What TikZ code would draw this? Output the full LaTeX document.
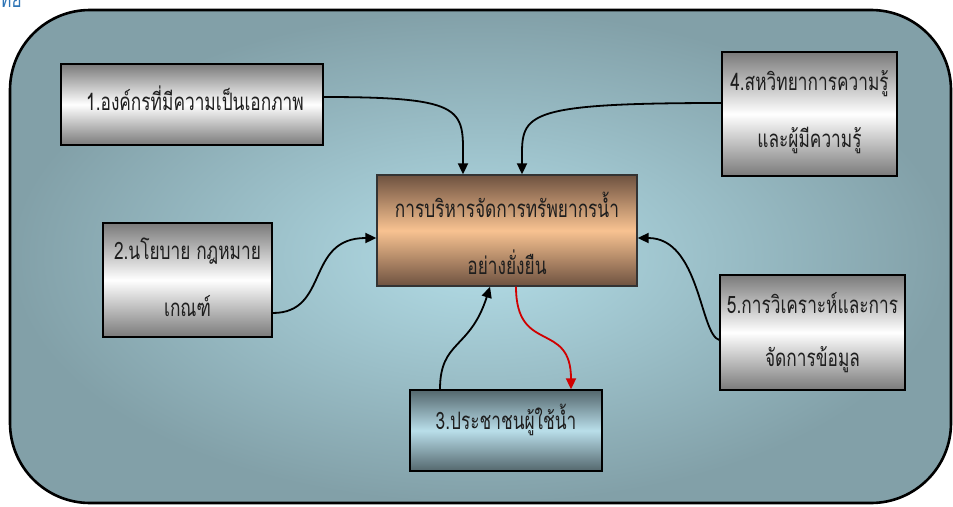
\documentclass[tikz,border=0pt]{standalone}
\usepackage{fontspec}
\usetikzlibrary{arrows.meta}
\newfontfamily\thaifont[Script=Thai,FakeStretch=0.72]{Loma}
\definecolor{bgin}{HTML}{B3DDE7}
\definecolor{bgout}{HTML}{82A0A8}
\definecolor{boxgray}{HTML}{7A7A7A}
\definecolor{brdark}{HTML}{6E5240}
\definecolor{brmid}{HTML}{F8C291}
\definecolor{bldark}{HTML}{54676D}
\definecolor{blmid}{HTML}{B9DEEA}
\definecolor{txt}{HTML}{1E1E1E}
\definecolor{fragblue}{HTML}{2E74B5}
\definecolor{redarr}{HTML}{D00000}
\tikzset{
  graybox/.style={draw=black, line width=1.3pt, top color=boxgray, bottom color=boxgray, middle color=white},
  brownbox/.style={draw=black!80, line width=1.3pt, top color=brdark, bottom color=brdark, middle color=brmid},
  bluebox/.style={draw=black, line width=1.3pt, top color=bldark, bottom color=bldark, middle color=blmid},
  lbl/.style={font=\thaifont\fontsize{24}{28}\selectfont, text=txt, inner sep=0pt},
  conn/.style={line width=1.8pt, -{Triangle[length=11pt,width=10pt]}},
}
\begin{document}
\begin{tikzpicture}[x=1pt,y=-1pt]
\useasboundingbox (0,0) rectangle (953,506);
% outer panel
\draw[line width=2.6pt, inner color=bgin, outer color=bgout, rounded corners=80pt]
  (10,10) rectangle (951,503);
% fragment of text above
\node[anchor=base west, inner sep=0pt, text=fragblue, font=\thaifont\fontsize{24}{28}\selectfont] (frag) at (0,7) {ทย};
% boxes
\node[graybox, minimum width=262pt, minimum height=81pt, inner sep=0pt] (b1) at (192,104.5) {};
\node[lbl] (t1) at (195,98) {1.องค์กรที่มีความเป็นเอกภาพ};
\node[graybox, minimum width=175pt, minimum height=124pt, inner sep=0pt] (b4) at (809.5,114) {};
\node[lbl] (t4a) at (809.5,84) {4.สหวิทยาการความรู้};
\node[lbl] (t4b) at (809.5,140) {และผู้มีความรู้};
\node[brownbox, minimum width=260pt, minimum height=111pt, inner sep=0pt] (c) at (507,230.5) {};
\node[lbl] (tca) at (507,205) {การบริหารจัดการทรัพยากรน้ำ};
\node[lbl] (tcb) at (507,262) {อย่างยั่งยืน};
\node[graybox, minimum width=169pt, minimum height=114pt, inner sep=0pt] (b2) at (187.5,280) {};
\node[lbl] (t2a) at (187.5,251) {2.นโยบาย กฎหมาย};
\node[lbl] (t2b) at (187.5,306) {เกณฑ์};
\node[graybox, minimum width=185pt, minimum height=115pt, inner sep=0pt] (b5) at (812.5,332.5) {};
\node[lbl] (t5a) at (812.5,303) {5.การวิเคราะห์และการ};
\node[lbl] (t5b) at (812.5,360) {จัดการข้อมูล};
\node[bluebox, minimum width=192pt, minimum height=81pt, inner sep=0pt] (b3) at (506,430.5) {};
\node[lbl] (t3) at (506,420) {3.ประชาชนผู้ใช้น้ำ};
% connectors
\draw[conn] (b1.east |- 0,97) .. controls (470,97) and (463,110) .. (c.north -| 463,0);
\draw[conn] (b4.west |- 0,103) .. controls (515,103) and (522,115) .. (c.north -| 522,0);
\draw[conn] (b2.east |- 0,313) .. controls (330,313) and (305,238) .. (c.west |- 0,238);
\draw[conn] (b5.west |- 0,340) .. controls (700,335) and (700,238) .. (c.east |- 0,238);
\draw[conn] (b3.north -| 440,0) .. controls (440,340) and (470,350) .. (c.south -| 490,0);
\draw[conn, draw=redarr] (c.south -| 516,0) .. controls (516,355) and (571,320) .. (b3.north -| 571,0);
\end{tikzpicture}
\end{document}
